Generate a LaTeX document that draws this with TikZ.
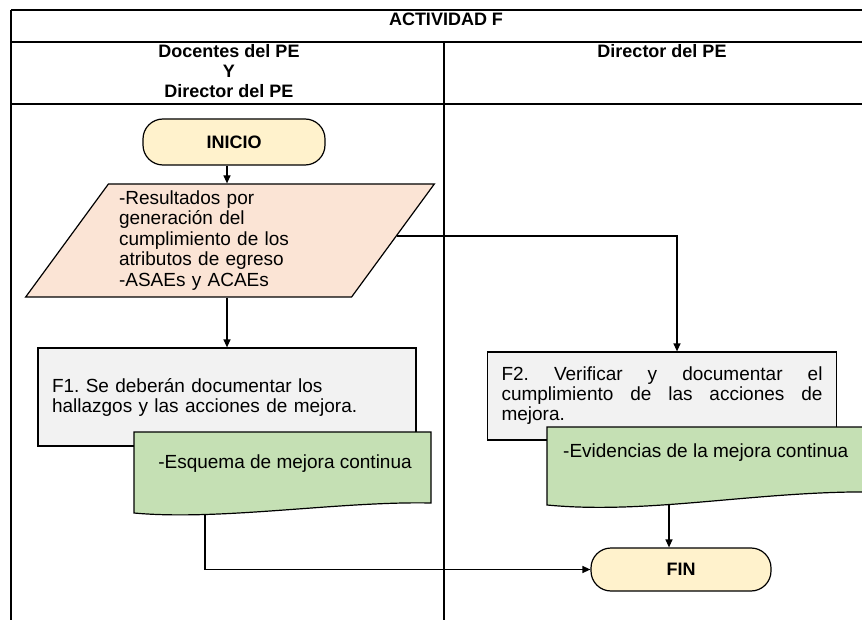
\documentclass[tikz,border=0pt]{standalone}
\usepackage{fontspec}
\setmainfont{Liberation Sans}
\frenchspacing
\usetikzlibrary{positioning}
\usetikzlibrary{calc}
\usetikzlibrary{shapes.geometric}
\usetikzlibrary{arrows.meta}

\definecolor{terminalFill}{HTML}{FFF2CC}
\definecolor{datosFill}{HTML}{FBE4D5}
\definecolor{pasoFill}{HTML}{F2F2F2}
\definecolor{docFill}{HTML}{C5E0B4}

\begin{document}
\begin{tikzpicture}[x=1pt, y=-1pt,
    tabla/.style={line width=1.6pt},
    flecha/.style={line width=1.2pt, -{Triangle[length=8pt,width=7pt]}},
    titulo/.style={font=\fontsize{18}{20}\selectfont\bfseries, align=center, inner sep=0pt},
    terminal/.style={draw, line width=1.2pt, fill=terminalFill, rounded corners=20pt,
      font=\fontsize{18}{20}\selectfont\bfseries},
    datos/.style={trapezium, trapezium left angle=54, trapezium right angle=126,
      trapezium stretches=true, draw, line width=1.2pt, fill=datosFill,
      minimum width=410pt, minimum height=113pt, inner sep=4pt,
      text width=222pt, align=left, font=\fontsize{19}{20.5}\selectfont},
    paso/.style={draw, line width=1.2pt, fill=pasoFill, inner xsep=14pt,
      align=left, font=\fontsize{19}{20}\selectfont},
    doc/.style={draw, line width=1.2pt, fill=docFill},
    texto/.style={font=\fontsize{19}{20}\selectfont, inner sep=0pt}]

  \clip (0,0) rectangle (862,620);

  \draw[tabla] (11,10) -- (862,10);
  \draw[tabla] (11,42) -- (862,42);
  \draw[tabla] (11,104) -- (862,104);
  \draw[tabla] (11,10) -- (11,620);
  \draw[tabla] (444,42) -- (444,620);

  \node[titulo, anchor=north] (actividad) at (446,13) {ACTIVIDAD F};
  \node[titulo, anchor=north] (docentes) at (229,44) {Docentes del PE\\Y\\Director del PE};
  \node[titulo, anchor=north] (director) at (662,44) {Director del PE};

  \node[terminal, minimum width=182pt, minimum height=46pt] (inicio) at (234,142) {INICIO};

  \node[datos] (resultados) at (230,240.5)
    {-Resultados por\\generación del\\cumplimiento de los\\atributos de egreso\\-ASAEs y ACAEs};

  \node[paso, minimum width=378pt, minimum height=98pt, text width=350pt]
    (f1) at (227,397) {F1. Se deberán documentar los\\hallazgos y las acciones de mejora.};

  \node[paso, minimum width=348pt, minimum height=88pt, text width=321pt]
    (f2) at (662,396) {\makebox[321pt][s]{F2.\hfill Verificar\hfill y\hfill documentar\hfill el}\\
      \makebox[321pt][s]{cumplimiento\hfill de\hfill las\hfill acciones\hfill de}\\
      mejora.};

  \draw[doc] (134,432) -- (431,432) -- (431,503)
    .. controls (340,501) and (220,521) .. (134,513) -- cycle;
  \node[texto, anchor=base] (esquema) at (285,468) {-Esquema de mejora continua};
  \coordinate (esquemaOut) at (205,514.5);

  \draw[doc] (547,427) -- (880,427) -- (880,492)
    .. controls (760,490) and (650,515) .. (547,505) -- cycle;
  \node[texto, anchor=base west] (evidencias) at (563,457) {-Evidencias de la mejora continua};
  \coordinate (evidenciasOut) at (669,504.6);

  \node[terminal, minimum width=180pt, minimum height=43pt] (fin) at (681,569.5) {FIN};

  \draw[flecha] (inicio.south -| f1.north) -- (resultados.north -| f1.north);
  \draw[flecha] (resultados.south -| f1.north) -- (f1.north);
  \draw[flecha] ($(resultados.top right corner)!0.46!(resultados.bottom right corner)$)
    -| ([xshift=15pt]f2.north);
  \draw[flecha] (esquemaOut) |- (fin.west);
  \draw[flecha] (evidenciasOut) -- (evidenciasOut |- fin.north);
\end{tikzpicture}
\end{document}
